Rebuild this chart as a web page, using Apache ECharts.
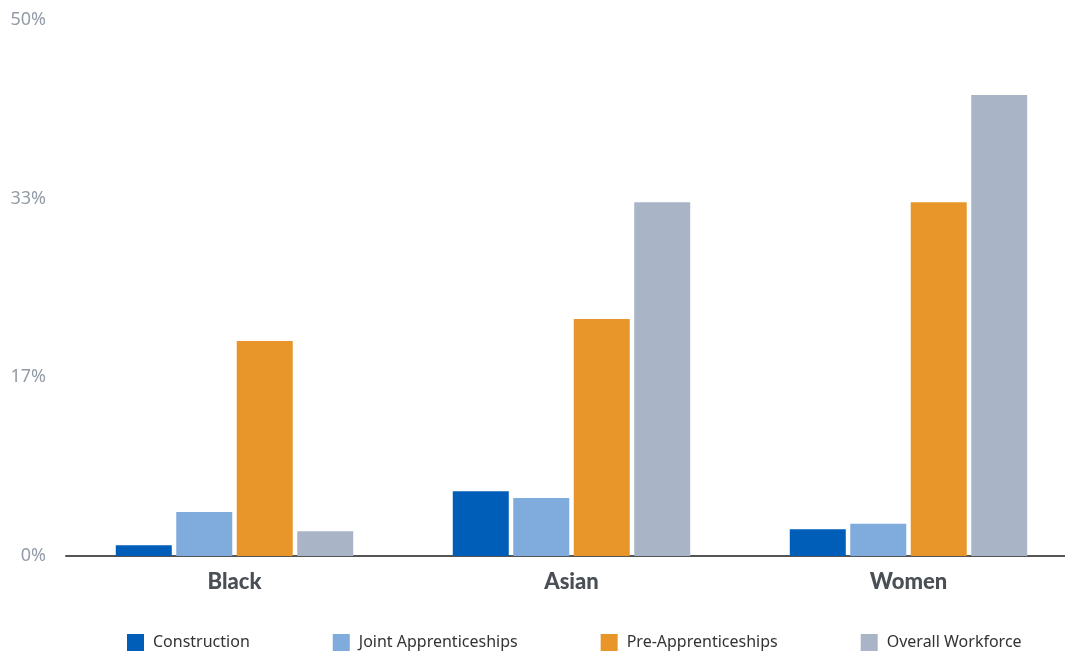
<!DOCTYPE html>
<html><head><meta charset="utf-8">
<script src="https://cdn.jsdelivr.net/npm/echarts@6/dist/echarts.min.js"></script>
<style>html,body{margin:0;padding:0;background:#fff}#c{width:1065px;height:652px}</style>
</head><body><div id="c"></div>
<script>
const categories = ['Black', 'Asian', 'Women'];
const construction = [1.0, 6.05, 2.5];
const jointApprenticeships = [4.1, 5.4, 3.0];
const preApprenticeships = [20.05, 22.1, 33.0];
const overallWorkforce = [2.3, 33.0, 43.0];
const seriesNames = ['Construction', 'Joint Apprenticeships', 'Pre-Apprenticeships', 'Overall Workforce'];
const colors = ['#005EB8', '#7FACDC', '#E8962A', '#A9B5C6'];
const yMax = 50;

const chart = echarts.init(document.getElementById('c'));
const dataSets = [construction, jointApprenticeships, preApprenticeships, overallWorkforce];
chart.setOption({
  animation: false,
  grid: { left: 66, width: 1011, top: 20, bottom: 96, containLabel: false, outerBoundsMode: 'none' },
  legend: {
    bottom: 1, left: 127, padding: 0, itemWidth: 17, itemHeight: 17, itemGap: 83, icon: 'rect',
    textStyle: { fontFamily: 'Noto Sans', fontSize: 16, color: '#333', padding: [0, 0, 0, 4] },
    data: seriesNames
  },
  xAxis: {
    type: 'category', data: categories,
    axisLine: { lineStyle: { color: '#555', width: 2 } },
    axisTick: { show: false },
    axisLabel: { fontFamily: 'Lato', fontWeight: 900, fontSize: 22, color: '#4a4f55', margin: 15 }
  },
  yAxis: {
    type: 'value', min: 0, max: yMax, interval: yMax / 3,
    splitLine: { show: false }, axisLine: { show: false }, axisTick: { show: false },
    axisLabel: { formatter: v => Math.round(v) + '%', fontFamily: 'Noto Sans', fontSize: 18, color: '#939ba6', margin: 20 }
  },
  series: dataSets.map((d, i) => ({
    name: seriesNames[i], type: 'bar', data: d, barWidth: 56, barGap: '8%',
    itemStyle: { color: colors[i] }
  }))
});
</script></body></html>
